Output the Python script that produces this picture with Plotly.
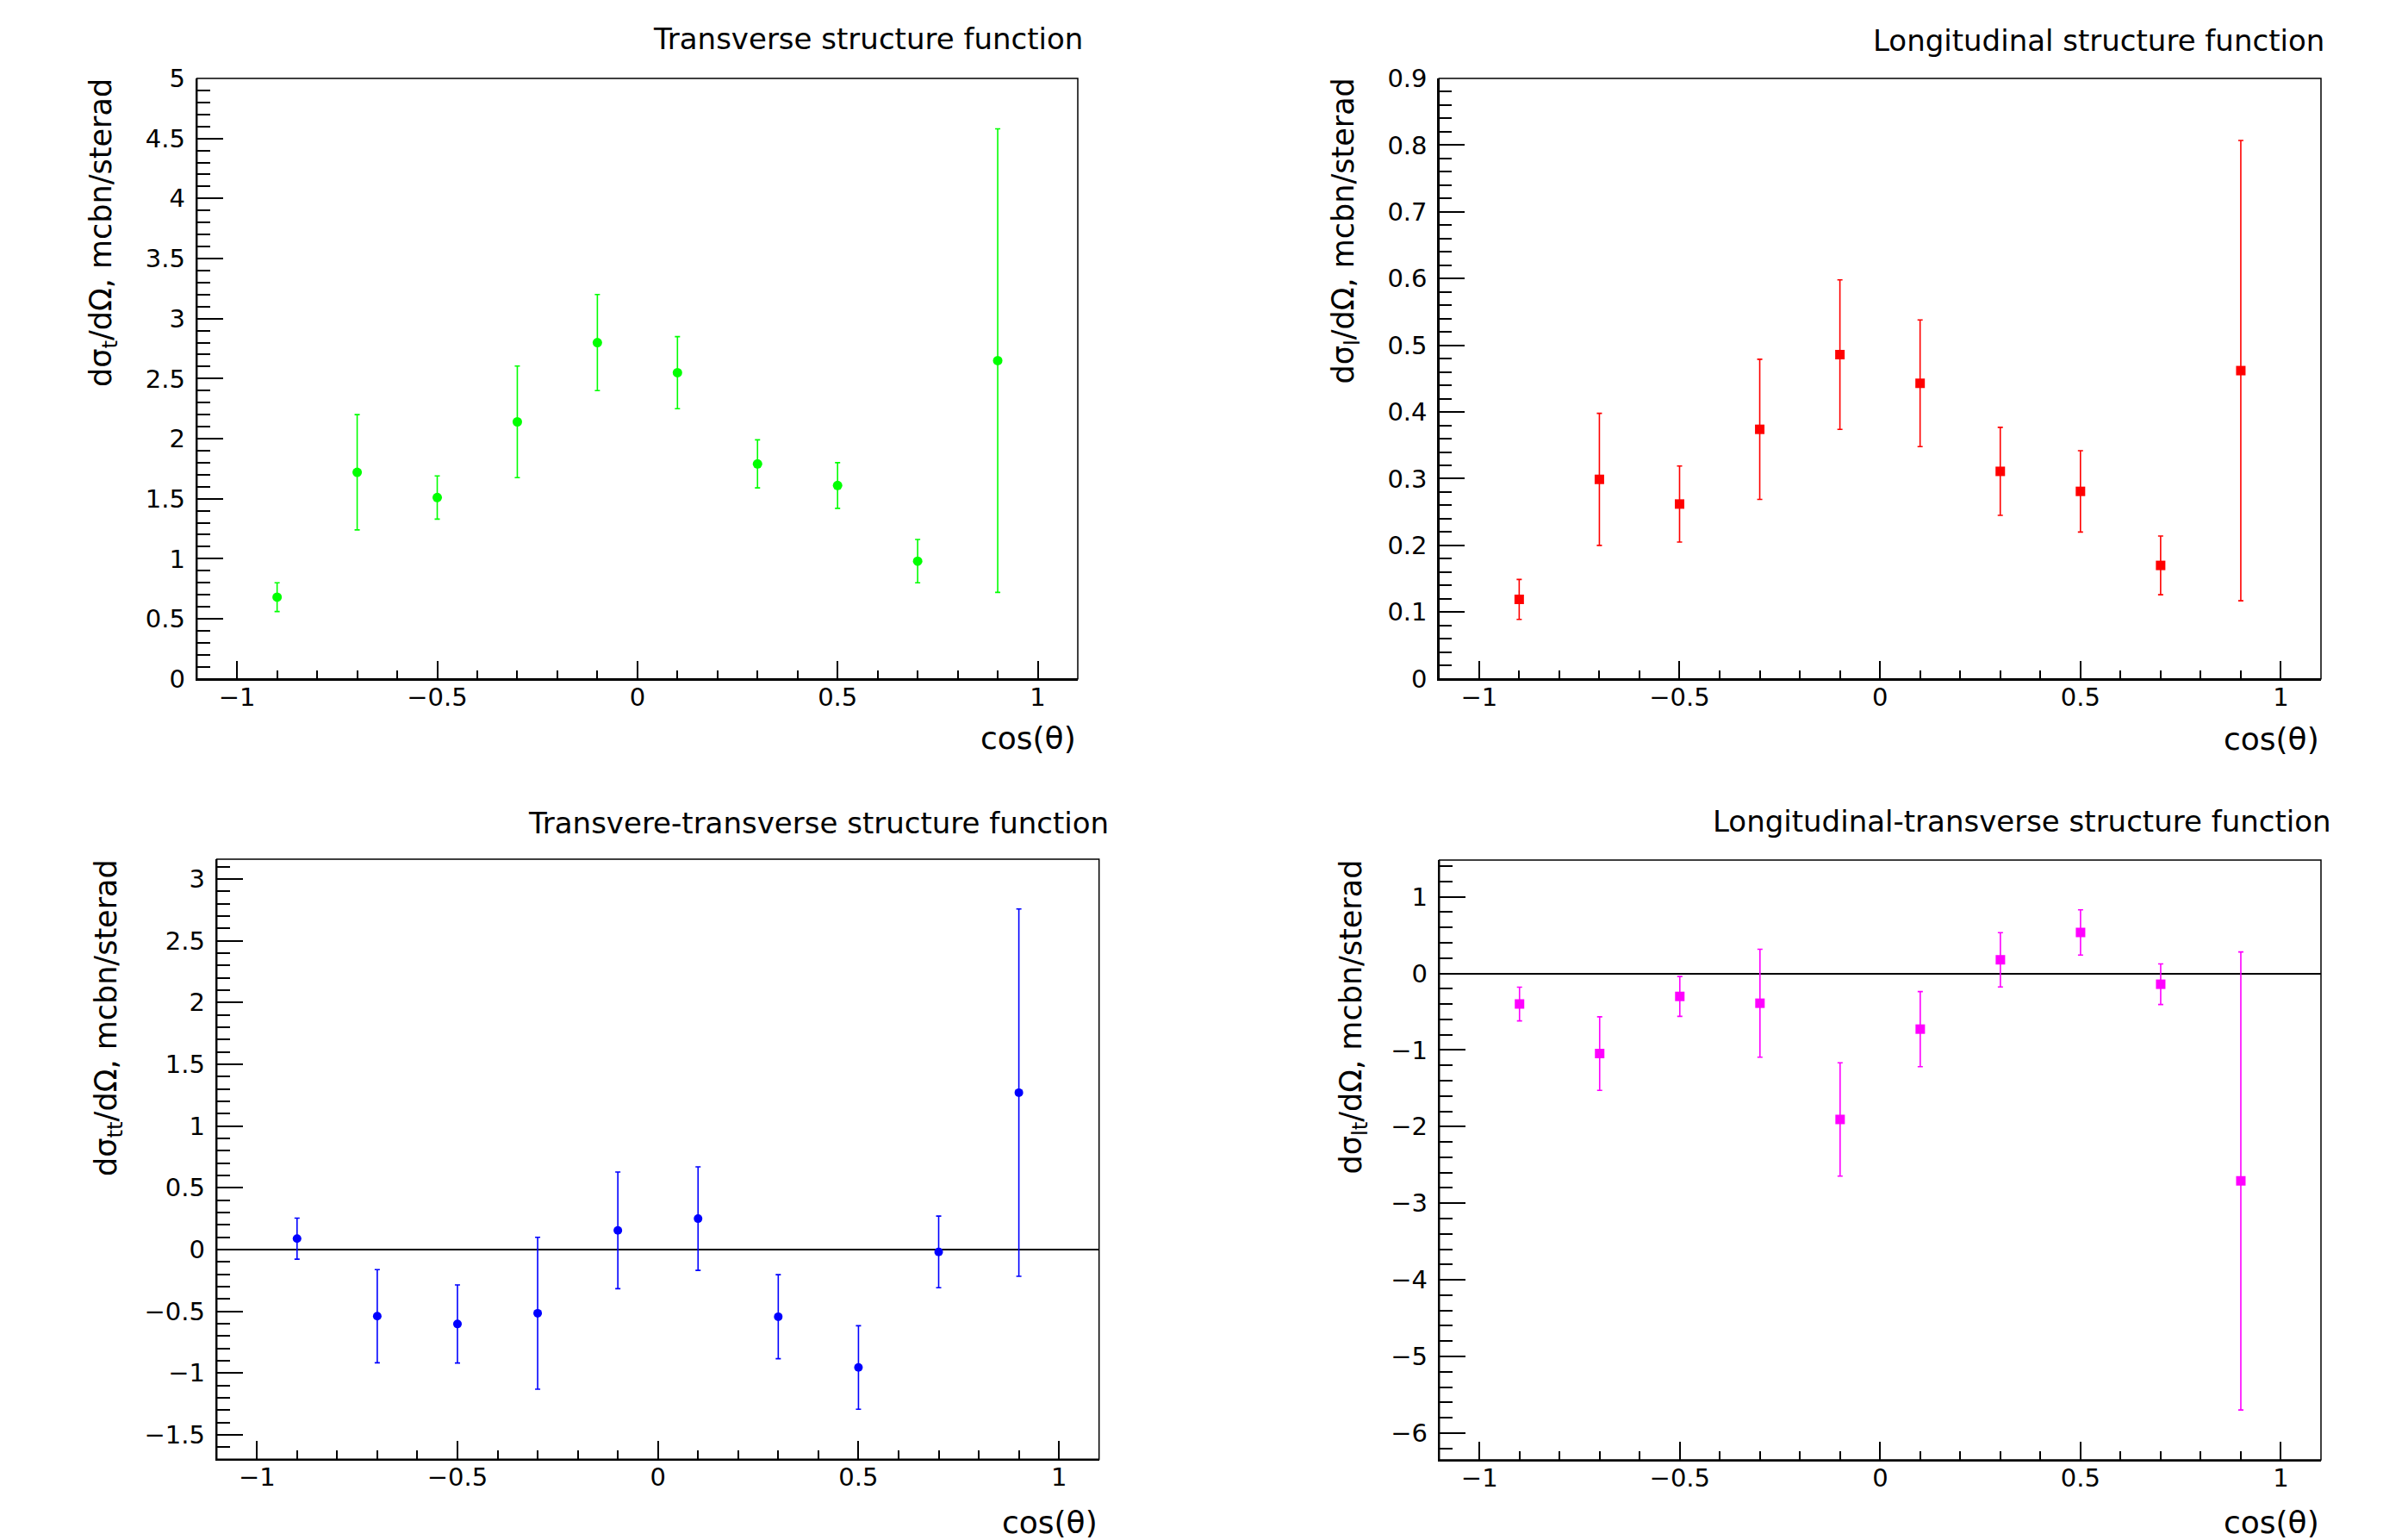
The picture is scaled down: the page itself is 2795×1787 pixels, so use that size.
import plotly.graph_objects as go

W, H = 2795, 1787

cos_theta = [-0.9, -0.7, -0.5, -0.3, -0.1, 0.1, 0.3, 0.5, 0.7, 0.9]

sigma_t = [0.68, 1.72, 1.51, 2.14, 2.80, 2.55, 1.79, 1.61, 0.98, 2.65]
err_t = [0.12, 0.48, 0.18, 0.465, 0.40, 0.30, 0.20, 0.19, 0.18, 1.93]

sigma_l = [0.119, 0.299, 0.262, 0.374, 0.486, 0.443, 0.311, 0.281, 0.170, 0.462]
err_l = [0.030, 0.099, 0.057, 0.105, 0.112, 0.095, 0.066, 0.061, 0.044, 0.345]

sigma_tt = [0.088, -0.540, -0.603, -0.516, 0.155, 0.250, -0.544, -0.955, -0.019, 1.27]
err_tt = [0.166, 0.377, 0.316, 0.615, 0.472, 0.419, 0.340, 0.338, 0.290, 1.487]

sigma_lt = [-0.40, -1.046, -0.30, -0.389, -1.906, -0.727, 0.178, 0.535, -0.141, -2.709]
err_lt = [0.22, 0.48, 0.26, 0.705, 0.74, 0.49, 0.354, 0.296, 0.265, 2.99]

titles = ["Transverse structure function", "Longitudinal structure function",
          "Transvere-transverse structure function", "Longitudinal-transverse structure function"]
ytitles = ["d\u03c3<sub>t</sub>/d\u03a9, mcbn/sterad", "d\u03c3<sub>l</sub>/d\u03a9, mcbn/sterad",
           "d\u03c3<sub>tt</sub>/d\u03a9, mcbn/sterad", "d\u03c3<sub>lt</sub>/d\u03a9, mcbn/sterad"]
xtitle = "cos(\u03b8)"

# layout in pixels (frame left, right, top, bottom)
frames = [(228.7, 1251, 91, 787.7), (1670.3, 2694, 91, 787.7),
          (251.7, 1275.7, 997, 1693.3), (1670.7, 2694, 998, 1694)]
yranges = [(0, 5), (0, 0.9), (-1.698, 3.16), (-6.35, 1.48)]
ydticks = [(0.5, 0.1), (0.1, 0.02), (0.5, 0.1), (1, 0.2)]
colors = ["#00ff00", "#ff0000", "#0000ff", "#ff00ff"]
symbols = ["circle", "square", "circle", "square"]
msizes = [11, 11, 10, 11]
title_right = [1259, 2700, 1289, 2708]
title_y = [45, 47, 955, 953]
ytitle_x = [119, 1561, 125, 1570]
xtitle_y = [857, 858, 1766, 1766]

series = [(sigma_t, err_t), (sigma_l, err_l), (sigma_tt, err_tt), (sigma_lt, err_lt)]

FONT = "DejaVu Sans, Verdana, sans-serif"

fig = go.Figure()
annotations = []
shapes = []

for i in range(4):
    l, r, t, b = frames[i]
    xd = [l / W, r / W]
    yd = [1 - b / H, 1 - t / H]
    xa = "xaxis" if i == 0 else f"xaxis{i+1}"
    ya = "yaxis" if i == 0 else f"yaxis{i+1}"
    xref = "x" if i == 0 else f"x{i+1}"
    yref = "y" if i == 0 else f"y{i+1}"
    vals, errs = series[i]
    fig.add_trace(go.Scatter(
        x=cos_theta, y=vals, mode="markers", xaxis=xref, yaxis=yref,
        marker=dict(color=colors[i], symbol=symbols[i], size=msizes[i], line=dict(width=0)),
        error_y=dict(type="data", array=errs, visible=True, color=colors[i], thickness=1.6, width=3),
        showlegend=False, cliponaxis=True,
    ))
    zl = i >= 2
    fig.update_layout(**{
        xa: dict(domain=xd, anchor=yref, range=[-1.1, 1.1], showgrid=False, zeroline=False,
                 automargin=False,
                 showline=True, linecolor="black", linewidth=2,
                 ticks="inside", ticklen=21, tickwidth=1.5, tickcolor="black",
                 tick0=0, dtick=0.5,
                 minor=dict(ticks="inside", ticklen=10, tickwidth=1.5, tickcolor="black",
                            tick0=0, dtick=0.1, showgrid=False),
                 tickfont=dict(family=FONT, size=29, color="black"),
                 ticklabelstandoff=-6),
        ya: dict(domain=yd, anchor=xref, range=list(yranges[i]), showgrid=False,
                 automargin=False,
                 zeroline=zl, zerolinecolor="black", zerolinewidth=2,
                 showline=True, linecolor="black", linewidth=2,
                 ticks="inside", ticklen=30, tickwidth=1.5, tickcolor="black",
                 tick0=0, dtick=ydticks[i][0],
                 minor=dict(ticks="inside", ticklen=15, tickwidth=1.5, tickcolor="black",
                            tick0=0, dtick=ydticks[i][1], showgrid=False),
                 tickfont=dict(family=FONT, size=29, color="black"),
                 ticklabelstandoff=6),
    })
    shapes.append(dict(type="rect", xref="paper", yref="paper", x0=xd[0], x1=xd[1], y0=yd[0], y1=yd[1],
                       line=dict(color="black", width=1.5), fillcolor="rgba(0,0,0,0)", layer="above"))
    annotations.append(dict(text=titles[i], xref="paper", yref="paper", x=title_right[i] / W,
                            y=1 - title_y[i] / H, xanchor="right", yanchor="middle", showarrow=False,
                            font=dict(family=FONT, size=34, color="black")))
    annotations.append(dict(text=ytitles[i], xref="paper", yref="paper", x=ytitle_x[i] / W,
                            y=1 - (t - 2) / H, xanchor="center", yanchor="top", textangle=-90,
                            showarrow=False, font=dict(family=FONT, size=35, color="black")))
    annotations.append(dict(text=xtitle, xref="paper", yref="paper", x=r / W,
                            y=1 - xtitle_y[i] / H, xanchor="right", yanchor="middle", showarrow=False,
                            font=dict(family=FONT, size=36, color="black")))

fig.update_layout(width=W, height=H, margin=dict(l=0, r=0, t=0, b=0, autoexpand=False),
                  template="none",
                  paper_bgcolor="white", plot_bgcolor="white",
                  annotations=annotations, shapes=shapes)

fig.write_html("out.html",
               config={"displayModeBar": False},
               post_script="document.documentElement.style.margin='0';document.body.style.margin='0';document.body.style.overflow='hidden';")
